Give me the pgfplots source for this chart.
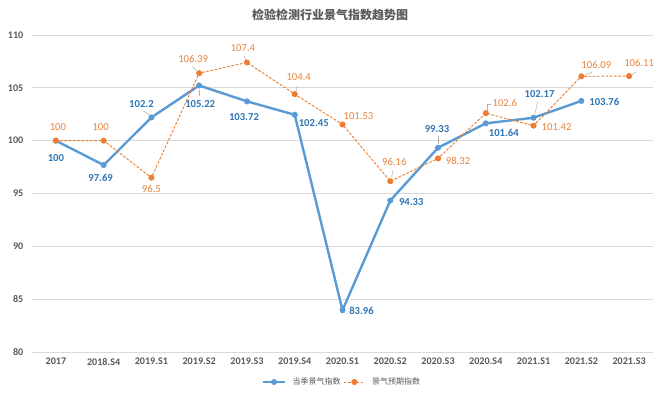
\documentclass[border=0pt]{standalone}
\usepackage{pgfplots}
\pgfplotsset{compat=1.18}
\usepackage{fontspec}
\setmainfont{Carlito}
\newfontfamily\cjk{Noto Sans CJK SC}
\definecolor{sblue}{HTML}{5B9BD5}
\definecolor{sorange}{HTML}{ED7D31}
\definecolor{lblue}{HTML}{2E75B6}
\definecolor{lorange}{HTML}{E8823A}
\definecolor{txtgray}{HTML}{595959}
\definecolor{gridgray}{HTML}{D9D9D9}
\newcommand{\bl}[4]{\node[font=\fontsize{8}{9}\selectfont\bfseries, text=lblue, inner sep=0pt] at (axis cs:#1,#2) [xshift=#3pt,yshift=#4pt] {#2};}
\newcommand{\ol}[4]{\node[font=\fontsize{8}{9}\selectfont, text=lorange, inner sep=0pt] at (axis cs:#1,#2) [xshift=#3pt,yshift=#4pt] {#2};}
\begin{document}
\begin{tikzpicture}
\begin{axis}[
  scale only axis,
  width=465.75pt, height=237.75pt,
  xmin=-0.5, xmax=12.5, ymin=80, ymax=110,
  xtick={0,...,12},
  xticklabels={2017,2018.S4,2019.S1,2019.S2,2019.S3,2019.S4,2020.S1,2020.S2,2020.S3,2020.S4,2021.S1,2021.S2,2021.S3},
  ytick={80,85,...,110},
  /pgf/number format/assume math mode=true,
  ticklabel style={font=\fontsize{7.6}{8}\selectfont\bfseries, text=txtgray},
  yticklabel style={xshift=-3pt},
  xticklabel style={yshift=-1pt},
  major tick length=0pt,
  axis line style={draw=none},
  ymajorgrids, grid style={gridgray, line width=0.6pt},
  clip=false,
  legend style={at={(axis description cs:0.5,0)}, anchor=center, yshift=-22.5pt, draw=none, fill=none, legend columns=2,
    font=\fontsize{6}{7}\selectfont\cjk, text=txtgray,
    /tikz/every even column/.style={column sep=0pt},
    /tikz/every odd column/.style={column sep=3pt}},
  legend image code/.code={\draw[#1] (0pt,0pt) -- (16pt,0pt); \draw[#1, solid, mark repeat=1] plot coordinates {(8pt,0pt)};},
]
\addplot[sblue, line width=1.8pt, mark=*, mark size=2pt, mark options={solid, line width=0.5pt}]
coordinates {(0,100) (1,97.69) (2,102.2) (3,105.22) (4,103.72) (5,102.45) (6,83.96) (7,94.33) (8,99.33) (9,101.64) (10,102.17) (11,103.76)};
\addlegendentry{当季景气指数}
\addplot[sorange, line width=0.7pt, dash pattern=on 2pt off 1.2pt, mark=*, mark size=2pt, mark options={solid, line width=0.5pt}]
coordinates {(0,100) (1,100) (2,96.5) (3,106.39) (4,107.4) (5,104.4) (6,101.53) (7,96.16) (8,98.32) (9,102.6) (10,101.42) (11,106.09) (12,106.11)};
\addlegendentry{景气预期指数}
% leader lines
\draw[gray!60, line width=0.4pt] (axis cs:2,102.2) ++(-2pt,2pt) -- ++(-4pt,3pt);
\draw[gray!60, line width=0.4pt] (axis cs:3,105.22) ++(0pt,-3pt) -- ++(0pt,-5pt);
\draw[gray!60, line width=0.4pt] (axis cs:8,99.33) ++(0pt,3pt) -- ++(0pt,6pt);
\draw[gray!60, line width=0.4pt] (axis cs:10,102.17) ++(1pt,3pt) -- ++(2pt,9pt);
\draw[gray!60, line width=0.4pt] (axis cs:3,106.39) ++(-2pt,2pt) -- ++(-3pt,3pt);
\draw[gray!60, line width=0.4pt] (axis cs:4,107.4) ++(-1pt,2pt) -- ++(-1pt,3pt);
\draw[gray!60, line width=0.4pt] (axis cs:5,104.4) ++(1pt,2pt) -- ++(1pt,4pt);
\draw[gray!60, line width=0.4pt] (axis cs:7,96.16) ++(1pt,3pt) -- ++(1pt,5pt);
\draw[gray!60, line width=0.4pt] (axis cs:9,102.6) ++(1pt,2pt) -- ++(0pt,5pt) -- ++(3pt,0pt);
\draw[gray!60, line width=0.4pt] (axis cs:11,106.09) ++(3pt,1pt) -- ++(5pt,2pt);
\draw[gray!60, line width=0.4pt] (axis cs:12,106.11) ++(2pt,1pt) -- ++(3pt,2pt);
% blue labels
\bl{0}{100}{0}{-12.75}
\bl{1}{97.69}{-2.25}{-9.75}
\bl{2}{102.2}{-7.5}{9.75}
\bl{3}{105.22}{0.75}{-14.25}
\bl{4}{103.72}{-2.25}{-12}
\bl{5}{102.45}{14.25}{-6}
\bl{6}{83.96}{14.25}{-0.75}
\bl{7}{94.33}{15.75}{-0.75}
\bl{8}{99.33}{-0.75}{14.25}
\bl{9}{101.64}{13.5}{-7.5}
\bl{10}{102.17}{4.5}{18}
\bl{11}{103.76}{17.25}{-0.75}
% orange labels
\ol{0}{100}{1.5}{10.5}
\ol{1}{100}{-2.25}{10.5}
\ol{2}{96.5}{0}{-8.25}
\ol{3}{106.39}{-4.5}{10.5}
\ol{4}{107.4}{-3}{10.5}
\ol{5}{104.4}{3}{12.75}
\ol{6}{101.53}{12}{6}
\ol{7}{96.16}{3}{14.25}
\ol{8}{98.32}{15}{-1.5}
\ol{9}{102.6}{14.25}{7.5}
\ol{10}{101.42}{17.25}{-0.75}
\ol{11}{106.09}{11.25}{8.25}
\ol{12}{106.11}{7.5}{9.75}
\node[font=\fontsize{9}{11}\selectfont\cjk\bfseries, text=txtgray] at (axis description cs:0,0) [xshift=223.5pt, yshift=252.75pt] {检验检测行业景气指数趋势图};
\end{axis}
\pgfresetboundingbox
\path (current axis.south west) ++(-24pt,-32.25pt) rectangle ++(495pt,296.25pt);
\end{tikzpicture}
\end{document}
